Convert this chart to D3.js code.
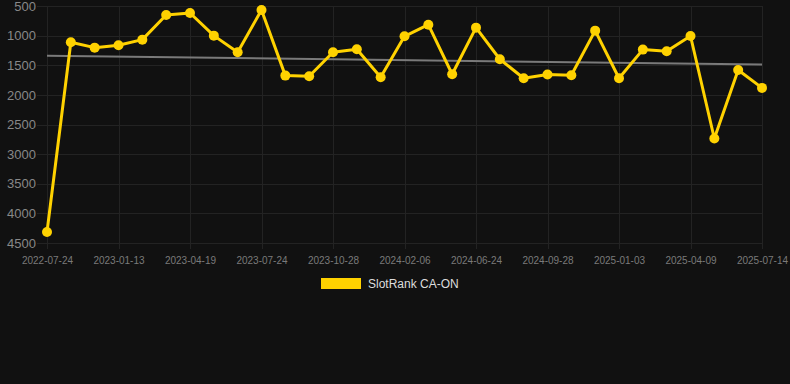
<!DOCTYPE html>
<html>
<head>
<meta charset="utf-8">
<script src="https://cdn.jsdelivr.net/npm/d3@7"></script>
<style>
  html, body { margin: 0; padding: 0; background: #111111; }
  svg { display: block; font-family: Arial, "Liberation Sans", sans-serif; }
</style>
</head>
<body>
<div id="chart"></div>
<script>
// one rank per sample date (labels shown every 3rd point)
const dates = [
    "2022-07-24", "2022-09-20", "2022-11-16",
    "2023-01-13", "2023-02-14", "2023-03-18",
    "2023-04-19", "2023-05-20", "2023-06-22",
    "2023-07-24", "2023-08-24", "2023-09-26",
    "2023-10-28", "2023-11-30", "2024-01-03",
    "2024-02-06", "2024-03-20", "2024-05-07",
    "2024-06-24", "2024-07-26", "2024-08-27",
    "2024-09-28", "2024-10-30", "2024-12-02",
    "2025-01-03", "2025-02-03", "2025-03-08",
    "2025-04-09", "2025-05-11", "2025-06-12",
    "2025-07-14"
]
const ranks = [
    4315, 1112, 1203, 1163, 1068, 652, 618, 1000, 1281, 567,
    1675, 1685, 1281, 1230, 1702, 1011, 815, 1652, 865, 1399,
    1719, 1657, 1668, 916, 1719, 1236, 1264, 1006, 2736, 1579,
    1882
]
const trend = [1338, 1489]   // values at first and last date
const yTicks = [500, 1000, 1500, 2000, 2500, 3000, 3500, 4000, 4500]
const seriesName = "SlotRank CA-ON"

const width = 790, height = 384
const margin = { top: 6, right: 28, bottom: 141, left: 47 }

const svg = d3.select("#chart").append("svg")
    .attr("width", width)
    .attr("height", height)

svg.append("rect")
    .attr("width", width)
    .attr("height", height)
    .attr("fill", "#111111")

const x = d3.scalePoint()
    .domain(dates)
    .range([margin.left, width - margin.right])

const y = d3.scaleLinear()
    .domain([500, 4500])
    .range([margin.top, height - margin.bottom])

const labelDates = dates.filter((d, i) => i % 3 == 0)

// grid
const grid = svg.append("g").attr("stroke", "#232323").attr("stroke-width", 1)
grid.selectAll("line.h")
    .data(yTicks)
    .enter().append("line")
    .attr("x1", 37)
    .attr("x2", width - margin.right)
    .attr("y1", d => Math.round(y(d)) + 0.5)
    .attr("y2", d => Math.round(y(d)) + 0.5)
grid.selectAll("line.v")
    .data(labelDates)
    .enter().append("line")
    .attr("x1", d => Math.round(x(d)) + 0.5)
    .attr("x2", d => Math.round(x(d)) + 0.5)
    .attr("y1", margin.top)
    .attr("y2", height - margin.bottom + 6)

// axes
const yAxis = svg.append("g")
    .attr("transform", "translate(36,0)")
    .call(d3.axisLeft(y).tickValues(yTicks).tickFormat(d3.format("d")).tickSize(0).tickPadding(0))
yAxis.select(".domain").remove()
yAxis.selectAll("text")
    .attr("fill", "#888888")
    .attr("font-size", 13)
    .attr("font-family", "Arial, 'Liberation Sans', sans-serif")

const xAxis = svg.append("g")
    .attr("transform", `translate(0,${height - margin.bottom + 10})`)
    .call(d3.axisBottom(x).tickValues(labelDates).tickSize(0).tickPadding(4))
xAxis.select(".domain").remove()
xAxis.selectAll("text")
    .attr("fill", "#7a7a7a")
    .attr("font-size", 10)
    .attr("font-family", "Arial, 'Liberation Sans', sans-serif")

// trend line
svg.append("line")
    .attr("x1", x(dates[0]))
    .attr("x2", x(dates[dates.length - 1]))
    .attr("y1", y(trend[0]))
    .attr("y2", y(trend[1]))
    .attr("stroke", "#7a7a7a")
    .attr("stroke-width", 2)

// series
const line = d3.line()
    .x((d, i) => x(dates[i]))
    .y(d => y(d))

svg.append("path")
    .datum(ranks)
    .attr("fill", "none")
    .attr("stroke", "#ffd200")
    .attr("stroke-width", 3)
    .attr("stroke-linejoin", "round")
    .attr("d", line)

svg.selectAll("circle.pt")
    .data(ranks)
    .enter().append("circle")
    .attr("class", "pt")
    .attr("cx", (d, i) => x(dates[i]))
    .attr("cy", d => y(d))
    .attr("r", 5)
    .attr("fill", "#ffd200")

// legend
const legend = svg.append("g").attr("transform", "translate(321,278)")
legend.append("rect")
    .attr("width", 40)
    .attr("height", 11)
    .attr("fill", "#ffd200")
legend.append("text")
    .attr("x", 47)
    .attr("y", 10)
    .attr("fill", "#dddddd")
    .attr("font-size", 12)
    .text(seriesName)
</script>
</body>
</html>
